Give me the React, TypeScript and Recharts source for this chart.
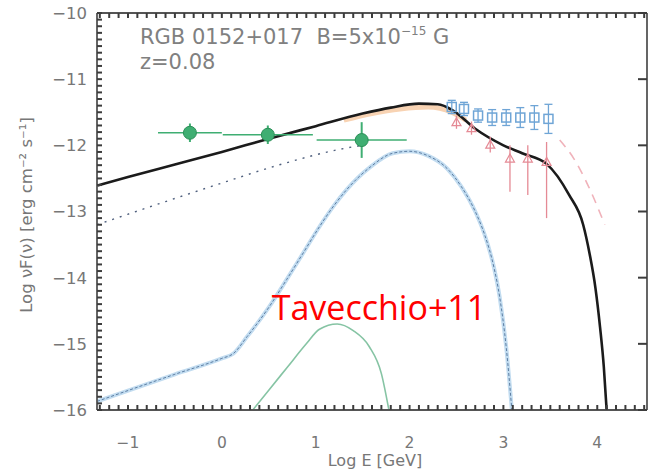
import React from 'react';
import {
  ComposedChart,
  ErrorBar,
  Line,
  Scatter,
  XAxis,
  YAxis,
} from 'recharts';

// model curves (log E [GeV], log nuF(nu))
const totalE = [-1.33, -1, -0.5, 0, 0.5, 1, 1.5, 1.8, 2.1, 2.3, 2.46, 2.7, 3.0, 3.2, 3.46, 3.7, 3.85, 3.92, 3.98, 4.03, 4.07, 4.1];
const totalF = [-12.61, -12.48, -12.29, -12.1, -11.9, -11.71, -11.52, -11.43, -11.37, -11.38, -11.47, -11.75, -12.0, -12.12, -12.28, -12.75, -13.2, -13.65, -14.15, -14.75, -15.35, -16];

const sscE = [-1.33, -0.5, 0, 0.12, 0.27, 0.5, 0.69, 0.87, 1.04, 1.2, 1.33, 1.58, 1.82, 2.0, 2.2, 2.4, 2.55, 2.7, 2.8, 2.9, 2.96, 3.03, 3.09];
const sscF = [-15.87, -15.46, -15.22, -15.15, -14.89, -14.45, -14.03, -13.62, -13.23, -12.9, -12.67, -12.33, -12.12, -12.09, -12.16, -12.35, -12.62, -13.0, -13.35, -13.85, -14.29, -15.05, -16];

const cascE = [0.33, 0.5, 0.7, 0.9, 1.04, 1.23, 1.4, 1.57, 1.7, 1.78];
const cascF = [-16, -15.7, -15.35, -15.0, -14.78, -14.7, -14.8, -15.04, -15.45, -16];

const dotE = [-1.33, -0.6, 0, 0.6, 1.33, 1.5];
const dotF = [-13.2, -12.85, -12.57, -12.3, -12.04, -12.0];

const orangeE = [1.3, 1.6, 1.9, 2.2, 2.45, 2.6];
const orangeF = [-11.62, -11.52, -11.45, -11.42, -11.5, -11.62];

const intrE = [3.6, 3.75, 3.9, 4.08];
const intrF = [-11.92, -12.2, -12.6, -13.2];

// data points
const fermiE = [-0.34, 0.49, 1.49];
const fermiF = [-11.81, -11.84, -11.92];
const fermiEx = [0.34, 0.48, 0.48];
const fermiEy = [0.14, 0.14, 0.27];

const hessE = [2.45, 2.58, 2.73, 2.88, 3.03, 3.18, 3.33, 3.48];
const hessF = [-11.42, -11.45, -11.55, -11.58, -11.58, -11.58, -11.58, -11.6];
const hessEy = [0.1, 0.1, 0.1, 0.12, 0.12, 0.15, 0.18, 0.22];

const redE = [2.5, 2.66, 2.86, 3.07, 3.26, 3.46];
const redF = [-11.65, -11.74, -11.99, -12.2, -12.2, -12.25];
const redLo = [0.1, 0.1, 0.12, 0.5, 0.55, 0.85];
const redHi = [0.1, 0.1, 0.12, 0.2, 0.2, 0.3];

const yMajor = [-16, -15, -14, -13, -12, -11, -10];

// ticks every 0.1, labels only on integers
const xTicks: number[] = [];
for (let i = -13; i <= 45; i++) xTicks.push(i / 10);
const yTicks: number[] = [];
for (let i = -160; i <= -100; i++) yTicks.push(i / 10);

const zip = (xs: number[], ys: number[]) => xs.map((x, i) => ({ x, y: ys[i] }));

const totalData = zip(totalE, totalF);
const sscData = zip(sscE, sscF);
const cascData = zip(cascE, cascF);
const dotData = zip(dotE, dotF);
const orangeData = zip(orangeE, orangeF);
const intrData = zip(intrE, intrF);
const fermiData = fermiE.map((x, i) => ({ x, y: fermiF[i], ex: fermiEx[i], ey: fermiEy[i] }));
const hessData = hessE.map((x, i) => ({ x, y: hessF[i], ey: hessEy[i] }));
const redData = redE.map((x, i) => ({ x, y: redF[i], ey: [redLo[i], redHi[i]] }));

const AXIS = '#555';
const FONT = '"DejaVu Sans", sans-serif';
const isMajor = (v: number) => Math.abs(v - Math.round(v)) < 1e-6;
const fmt = (v: number) => (!isMajor(v) ? '' : v < 0 ? '\u2212' + Math.abs(Math.round(v)) : String(Math.round(v)));
const noLabel = () => '';
const X_DOMAIN: [number, number] = [-1.33, 4.53];
const Y_DOMAIN: [number, number] = [-16, -10];
const tickStyle = { stroke: '#3c3c3c', strokeWidth: 2 };
const labelStyle = { fontSize: 15.5, fill: '#777', fontFamily: FONT };

const Circle = (p: any) => (
  <circle cx={p.cx} cy={p.cy} r={6.5} fill="#3fae72" stroke="#2a8f57" strokeWidth={1} />
);
const Square = (p: any) => (
  <rect x={p.cx - 4.5} y={p.cy - 4.5} width={9} height={9} fill="none" stroke="#6fa5d6" strokeWidth={1.5} />
);
const Triangle = (p: any) => (
  <path d={`M${p.cx},${p.cy - 4.5} L${p.cx + 4.5},${p.cy + 3.5} L${p.cx - 4.5},${p.cy + 3.5} Z`} fill="none" stroke="#e58a95" strokeWidth={1.2} />
);

export default function App() {
  return (
    <div style={{ position: 'absolute', left: 0, top: 0, width: 654, height: 471, background: '#fff' }}>
      <ComposedChart width={654} height={471} margin={{ top: 0, right: 0, bottom: 0, left: 0 }}>
        <XAxis xAxisId="b" type="number" dataKey="x" domain={X_DOMAIN} allowDataOverflow ticks={xTicks} interval={0}
          tickFormatter={fmt} tickSize={-5} tickMargin={32} tickLine={tickStyle} tick={labelStyle}
          height={61} stroke={AXIS} strokeWidth={1.8} />
        <XAxis xAxisId="t" orientation="top" type="number" dataKey="x" domain={X_DOMAIN} allowDataOverflow ticks={xTicks} interval={0}
          tickFormatter={noLabel} tickSize={-5} tickLine={tickStyle} height={13} stroke={AXIS} strokeWidth={1.8} />
        <YAxis yAxisId="l" type="number" dataKey="y" domain={Y_DOMAIN} allowDataOverflow ticks={yTicks} interval={0}
          tickFormatter={fmt} tickSize={-5} tickMargin={15} tickLine={tickStyle} tick={{ ...labelStyle, fontSize: 16.5 }}
          width={97} stroke={AXIS} strokeWidth={1.8} />
        <YAxis yAxisId="r" orientation="right" type="number" dataKey="y" domain={Y_DOMAIN} allowDataOverflow ticks={yMajor} interval={0}
          tickFormatter={noLabel} tickSize={-9} tickLine={tickStyle} width={7} stroke={AXIS} strokeWidth={1.8} />

        <Line xAxisId="b" yAxisId="l" data={sscData} dataKey="y" type="monotone" stroke="#c2dcf0" strokeWidth={4} dot={false} isAnimationActive={false} />
        <Line xAxisId="b" yAxisId="l" data={sscData} dataKey="y" type="monotone" stroke="#5d7ea3" strokeWidth={1} strokeDasharray="3 2" dot={false} isAnimationActive={false} />
        <Line xAxisId="b" yAxisId="l" data={cascData} dataKey="y" type="monotone" stroke="#86c4a4" strokeWidth={1.6} dot={false} isAnimationActive={false} />
        <Line xAxisId="b" yAxisId="l" data={dotData} dataKey="y" type="monotone" stroke="#50607e" strokeWidth={1.4} strokeDasharray="2 6" dot={false} isAnimationActive={false} />
        <Line xAxisId="b" yAxisId="l" data={orangeData} dataKey="y" type="monotone" stroke="#f8d3b3" strokeWidth={5} dot={false} isAnimationActive={false} />
        <Line xAxisId="b" yAxisId="l" data={intrData} dataKey="y" type="monotone" stroke="#f0b2ba" strokeWidth={1.6} strokeDasharray="9 7" dot={false} isAnimationActive={false} />
        <Line xAxisId="b" yAxisId="l" data={totalData} dataKey="y" type="monotone" stroke="#1b1b1b" strokeWidth={2.6} dot={false} isAnimationActive={false} />

        <Scatter xAxisId="b" yAxisId="l" data={redData} dataKey="y" shape={<Triangle />} isAnimationActive={false}>
          <ErrorBar dataKey="ey" direction="y" width={0} stroke="#e58a95" strokeWidth={1.3} />
        </Scatter>
        <Scatter xAxisId="b" yAxisId="l" data={hessData} dataKey="y" shape={<Square />} isAnimationActive={false}>
          <ErrorBar dataKey="ey" direction="y" width={4} stroke="#6fa5d6" strokeWidth={1.3} />
        </Scatter>
        <Scatter xAxisId="b" yAxisId="l" data={fermiData} dataKey="y" shape={<Circle />} isAnimationActive={false}>
          <ErrorBar dataKey="ex" direction="x" width={0} stroke="#3fae72" strokeWidth={1.5} />
          <ErrorBar dataKey="ey" direction="y" width={0} stroke="#3fae72" strokeWidth={2} />
        </Scatter>
      </ComposedChart>

      <svg width={654} height={471} style={{ position: 'absolute', left: 0, top: 0, pointerEvents: 'none' }}>
        <text x={140} y={44} fontSize={21} fill="#808080" fontFamily={FONT}>
          RGB 0152+017{'\u00a0\u00a0'}B=5x10
          <tspan dy={-9} fontSize={12}>{'\u221215'}</tspan>
          <tspan dy={9}> G</tspan>
        </text>
        <text x={140} y={69} fontSize={21} fill="#808080" fontFamily={FONT}>
          z=0.08
        </text>
        <text x={379} y={320} fontSize={34} fill="#ff0000" textAnchor="middle" fontFamily='"Comic Sans MS", "Open Sans", sans-serif'>
          Tavecchio+11
        </text>
        <text x={375} y={466} fontSize={16} fill="#777" textAnchor="middle" fontFamily={FONT}>
          Log E [GeV]
        </text>
        <text
          x={26}
          y={215}
          fontSize={16.5}
          fill="#777"
          textAnchor="middle"
          fontFamily={FONT}
          transform="rotate(-90 26 215)"
          dy="0.35em"
        >
          Log {'\u03bd'}F({'\u03bd'}) [erg cm{'\u207b\u00b2'} s{'\u207b\u00b9'}]
        </text>
      </svg>
    </div>
  );
}
